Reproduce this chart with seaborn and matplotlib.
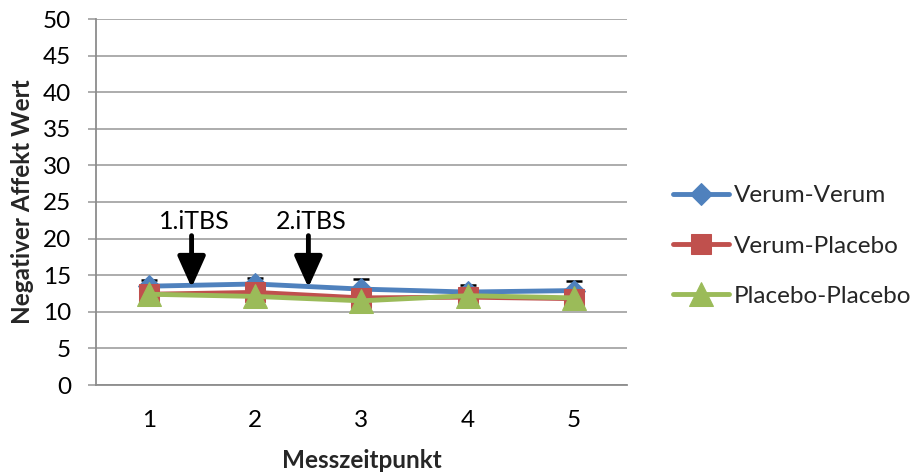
import matplotlib
matplotlib.use("Agg")
import matplotlib.pyplot as plt
import seaborn as sns
import pandas as pd
import numpy as np

# ---- data ----
zeitpunkte = [1, 2, 3, 4, 5]
verum_verum = [13.5, 13.8, 13.1, 12.7, 12.9]
verum_verum_err = [0.8, 0.8, 1.4, 0.9, 1.3]
verum_placebo = [12.4, 12.65, 11.9, 12.0, 11.8]
placebo_placebo = [12.4, 12.1, 11.5, 12.2, 11.9]
series_names = ["Verum-Verum", "Verum-Placebo", "Placebo-Placebo"]
y_ticks = list(range(0, 51, 5))
annot_labels = ["1.iTBS", "2.iTBS"]
annot_x = [1.40, 2.50]

sns.set_style("white")
plt.rcParams["font.family"] = ["Lato", "DejaVu Sans"]

W, H = 912, 474
FS = 17.5
fig = plt.figure(figsize=(W / 100, H / 100), dpi=100)
ax = fig.add_axes([96 / W, 1 - 385 / H, (627 - 96) / W, (385 - 19) / H])

colors = ["#4F81BD", "#C0504D", "#9BBB59"]
markers = ["D", "s", "^"]
msizes = [11, 15, 17]
values = [verum_verum, verum_placebo, placebo_placebo]

grid_c = "#A6A6A6"
axis_c = "#8C8C8C"
ax.set_ylim(0, 50)
ax.set_xlim(0.5, 5.5)
ax.set_yticks(y_ticks)
ax.yaxis.grid(True, color=grid_c, lw=1.3)
ax.set_axisbelow(True)

# error bars (upper only) for Verum-Verum
ax.errorbar(zeitpunkte, verum_verum, yerr=[np.zeros(5), verum_verum_err],
            fmt="none", ecolor="black", elinewidth=1.0, capsize=6, capthick=1.8, zorder=4)

for name, vals, c, m, ms in zip(series_names, values, colors, markers, msizes):
    df = pd.DataFrame({"x": zeitpunkte, "y": vals})
    sns.lineplot(data=df, x="x", y="y", ax=ax, color=c, marker=m, markersize=ms,
                 markeredgecolor=c, lw=3.5, label=name, zorder=5)

for sp in ["top", "right"]:
    ax.spines[sp].set_visible(False)
for sp in ["left", "bottom"]:
    ax.spines[sp].set_color(axis_c)
    ax.spines[sp].set_linewidth(1.3)

ax.set_xticks(zeitpunkte)
ax.set_xticklabels([str(z) for z in zeitpunkte])
ax.set_xticks(np.arange(0.5, 5.6, 1.0), minor=True)
ax.tick_params(axis="x", which="major", length=0, pad=18, labelsize=FS, colors="black")
ax.tick_params(axis="x", which="minor", length=6, width=1.3, color=axis_c, direction="out")
ax.tick_params(axis="y", which="major", length=6, width=1.3, color=grid_c, pad=12,
               labelsize=FS, labelcolor="black", left=True)

ax.set_xlabel("Messzeitpunkt", fontsize=FS, fontweight="bold", labelpad=13)
ax.set_ylabel("Negativer Affekt Wert", fontsize=FS, fontweight="bold", labelpad=6)

# annotations
for lbl, xa in zip(annot_labels, annot_x):
    ax.annotate("", xy=(xa, 13.3), xytext=(xa, 20.4),
                arrowprops=dict(arrowstyle="-|>,head_length=1.9,head_width=0.85",
                                lw=3.5, color="black", mutation_scale=10,
                                shrinkA=0, shrinkB=0), zorder=7)
    ax.text(xa + 0.03, 22.4, lbl, fontsize=FS + 0.5, ha="center", va="center",
            color="black", zorder=7)

leg = ax.legend(loc="center left", bbox_to_anchor=(673 / W, 1 - 246 / H),
                bbox_transform=fig.transFigure, frameon=False, fontsize=FS,
                handlelength=2.3, handletextpad=0.2, labelspacing=1.2,
                borderpad=0, borderaxespad=0)

fig.savefig("out.png", dpi=100)
